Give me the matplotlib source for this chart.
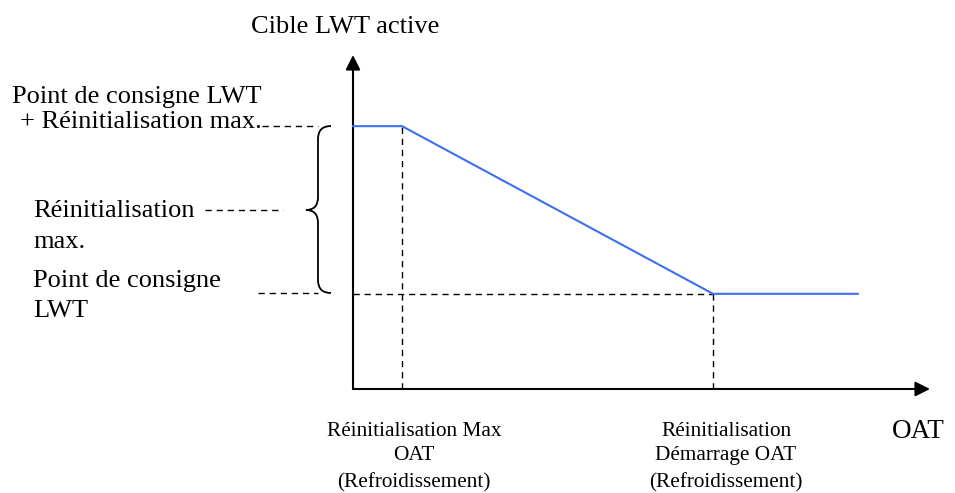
import matplotlib
matplotlib.use("Agg")
import matplotlib.pyplot as plt
from matplotlib.path import Path
from matplotlib.patches import PathPatch

# Reset curve: active LWT target vs OAT (schematic units, 0-100 on both axes)
oat_points = [0.0, 8.5, 62.4, 87.5]
lwt_points = [78.7, 78.7, 28.5, 28.5]
setpoint = 28.5
setpoint_max = 78.7
oat_max_reset = 8.5
oat_start_reset = 62.4

# (text, x, baseline y) in pixels
left_labels = [
    ("Point de consigne LWT", 12, 103),
    ("+ Réinitialisation max.", 20, 128),
    ("Réinitialisation", 33, 217),
    ("max.", 33, 248),
    ("Point de consigne", 33, 287),
    ("LWT", 33, 317),
]
bottom_labels = [
    (414, ["Réinitialisation Max", "OAT", "(Refroidissement)"]),
    (726, ["Réinitialisation", "Démarrage OAT", "(Refroidissement)"]),
]
bottom_baselines = [436, 460, 487]

W, H = 955, 493
plt.rcParams["font.family"] = ["Liberation Serif", "DejaVu Serif"]
fig = plt.figure(figsize=(W / 100, H / 100), dpi=100)

# overlay axes in pixel coordinates for the annotations
over = fig.add_axes([0, 0, 1, 1])
over.set_xlim(0, W)
over.set_ylim(H, 0)
over.axis("off")

# main axes: origin at pixel (353, 389), 100 units -> arrow tips
ax = fig.add_axes([353 / W, (H - 389) / H, 577 / W, 334 / H])
ax.set_xlim(0, 100)
ax.set_ylim(0, 100)
ax.axis("off")

arrow = dict(arrowstyle="-|>", mutation_scale=22, lw=1.5, color="black",
             shrinkA=0, shrinkB=0)
ax.annotate("", xy=(0, 100), xytext=(0, 0), arrowprops=arrow, annotation_clip=False)
ax.annotate("", xy=(100, 0), xytext=(0, 0), arrowprops=arrow, annotation_clip=False)

dash = dict(color="black", lw=1.0, dashes=(4.5, 3.5), clip_on=False)
ax.plot([0, oat_start_reset], [setpoint, setpoint], **dash)
ax.plot([oat_max_reset, oat_max_reset], [0, setpoint_max], **dash)
ax.plot([oat_start_reset, oat_start_reset], [0, setpoint], **dash)

ax.plot(oat_points, lwt_points, color="#3f6ff0", lw=1.5, clip_on=False, zorder=5)

# leader lines on the left
over.plot([262, 318], [126, 126], **dash)
over.plot([205, 283], [210, 210], **dash)
over.plot([258, 318], [293, 293], **dash)

# curly brace
verts = [(331, 126), (318, 126), (318, 139),
         (318, 197),
         (318, 210), (306, 210),
         (318, 210), (318, 223),
         (318, 280),
         (318, 293), (331, 293)]
codes = [Path.MOVETO, Path.CURVE3, Path.CURVE3,
         Path.LINETO,
         Path.CURVE3, Path.CURVE3,
         Path.CURVE3, Path.CURVE3,
         Path.LINETO,
         Path.CURVE3, Path.CURVE3]
over.add_patch(PathPatch(Path(verts, codes), fill=False, lw=1.3, color="black"))

over.text(345, 33, "Cible LWT active", fontsize=19, ha="center", va="baseline")
for txt, x, y in left_labels:
    over.text(x, y, txt, fontsize=19, ha="left", va="baseline")
for x, lines in bottom_labels:
    for txt, y in zip(lines, bottom_baselines):
        over.text(x, y, txt, fontsize=15.3, ha="center", va="baseline")
over.text(918, 438, "OAT", fontsize=19.5, ha="center", va="baseline")

fig.savefig("out.png", dpi=100)
